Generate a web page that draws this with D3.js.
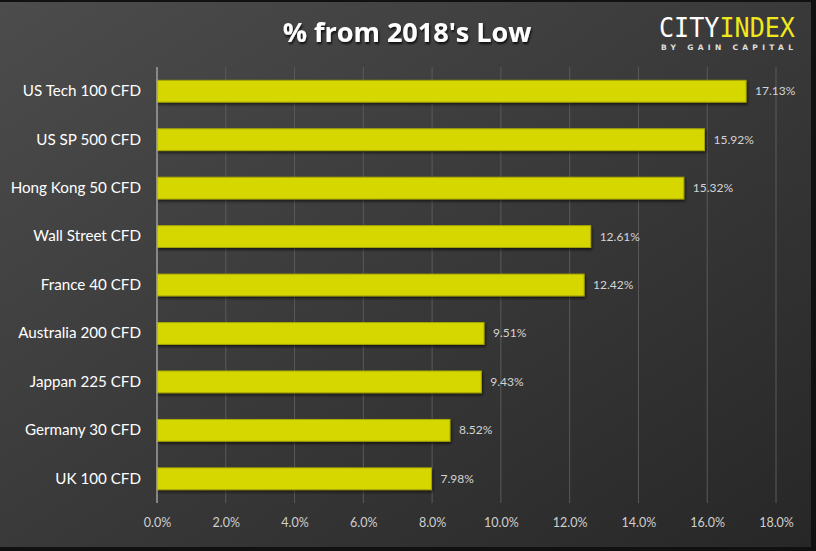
<!DOCTYPE html>
<html><head><meta charset="utf-8">
<script src="https://cdn.jsdelivr.net/npm/d3@7"></script>
<style>html,body{margin:0;padding:0;background:#000;}svg{display:block;}</style>
</head><body>
<script>
const categories = ["US Tech 100 CFD","US SP 500 CFD","Hong Kong 50 CFD","Wall Street CFD","France 40 CFD","Australia 200 CFD","Jappan 225 CFD","Germany 30 CFD","UK 100 CFD"];
const values = [17.13,15.92,15.32,12.61,12.42,9.51,9.43,8.52,7.98];
const valueLabels = ["17.13%","15.92%","15.32%","12.61%","12.42%","9.51%","9.43%","8.52%","7.98%"];
const xTicks = [0,2,4,6,8,10,12,14,16,18];
const title = "% from 2018's Low";

const W=816,H=551;
const svg=d3.select("body").append("svg").attr("width",W).attr("height",H);
const defs=svg.append("defs");
const g1=defs.append("linearGradient").attr("id","bg").attr("x1","0").attr("y1","0").attr("x2","1").attr("y2","1");
g1.append("stop").attr("offset","0").attr("stop-color","#4c4c4c");
g1.append("stop").attr("offset","1").attr("stop-color","#272727");
const sh=defs.append("filter").attr("id","sh").attr("x","-10%").attr("y","-30%").attr("width","120%").attr("height","180%");
sh.append("feDropShadow").attr("dx",1).attr("dy",2).attr("stdDeviation",1.5).attr("flood-color","#000").attr("flood-opacity",0.6);
const tsh=defs.append("filter").attr("id","tsh");
tsh.append("feDropShadow").attr("dx",1).attr("dy",2).attr("stdDeviation",1.2).attr("flood-color","#000").attr("flood-opacity",0.8);

svg.append("rect").attr("width",W).attr("height",H).attr("fill","#111");
svg.append("rect").attr("x",0).attr("y",2).attr("width",811).attr("height",545).attr("fill","url(#bg)");

const x=d3.scaleLinear().domain([0,18]).range([157,776]);
const y=d3.scaleBand().domain(categories).range([67,503]).paddingInner(0.55).paddingOuter(0.275);

// gridlines
svg.append("g").selectAll("line").data(xTicks.filter(d=>d>0)).join("line")
  .attr("x1",d=>x(d)).attr("x2",d=>x(d)).attr("y1",67).attr("y2",503)
  .attr("stroke","#5a5a5a").attr("stroke-width",1);

// bars
svg.append("g").selectAll("rect").data(values).join("rect")
  .attr("x",x(0)).attr("y",(d,i)=>y(categories[i]))
  .attr("width",d=>x(d)-x(0)).attr("height",y.bandwidth())
  .attr("fill","#d7d704").attr("stroke","#a8a800").attr("stroke-width",1)
  .attr("filter","url(#sh)");

// axis line
svg.append("line").attr("x1",x(0)).attr("x2",x(0)).attr("y1",67).attr("y2",503).attr("stroke","#a0a0a0").attr("stroke-width",1.5);

// value labels
svg.append("g").selectAll("text").data(values).join("text")
  .attr("x",d=>x(d)+9).attr("y",(d,i)=>y(categories[i])+y.bandwidth()/2+4)
  .attr("fill","#d4d4d4").attr("font-family","Lato, 'Open Sans', sans-serif").attr("font-size",12)
  .text((d,i)=>valueLabels[i]);

// category labels
const yAxis=d3.axisLeft(y).tickSize(0).tickPadding(16);
const ya=svg.append("g").attr("transform",`translate(${x(0)},0)`).call(yAxis);
ya.select(".domain").remove();
ya.selectAll("text").attr("fill","#ffffff").attr("font-family","Lato, 'Open Sans', sans-serif").attr("font-size",15.2);

// x axis
const xAxis=d3.axisBottom(x).tickValues(xTicks).tickFormat(d=>d.toFixed(1)+"%").tickSize(0).tickPadding(15);
const xa=svg.append("g").attr("transform","translate(0,503)").call(xAxis);
xa.select(".domain").remove();
xa.selectAll("text").attr("fill","#cfcfcf").attr("font-family","Lato, 'Open Sans', sans-serif").attr("font-size",12.5);

// title
svg.append("text").attr("x",407).attr("y",42).attr("text-anchor","middle")
  .attr("fill","#fff").attr("font-family","'Open Sans', Lato, sans-serif").attr("font-weight","bold").attr("font-size",27)
  .attr("filter","url(#tsh)").text(title);

// logo
const logo=svg.append("text").attr("x",659).attr("y",37).attr("font-family","'DejaVu Sans Mono', monospace").attr("font-size",26).attr("textLength",136).attr("lengthAdjust","spacingAndGlyphs");
logo.append("tspan").attr("fill","#ffffff").text("CITY");
logo.append("tspan").attr("fill","#f0e81c").text("INDEX");
svg.append("text").attr("x",661).attr("y",50).attr("font-family","'DejaVu Sans', sans-serif").attr("font-weight","bold").attr("font-size",7.5)
  .attr("fill","#e0e0e0").attr("textLength",132).attr("lengthAdjust","spacing").text("BY GAIN CAPITAL");
</script>
</body></html>
